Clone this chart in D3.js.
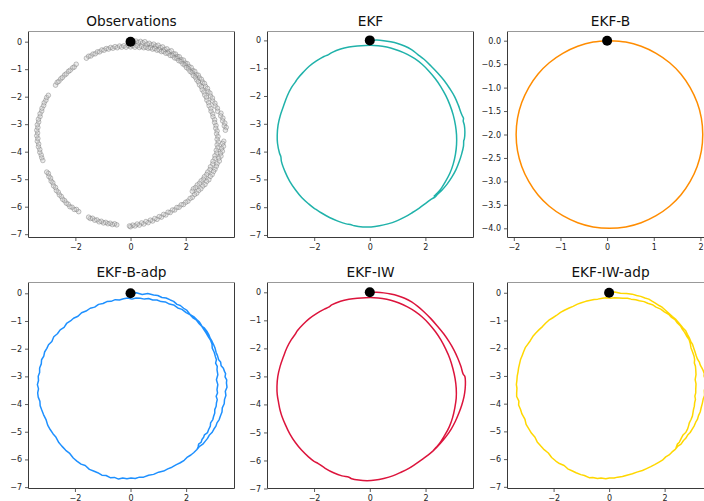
<!DOCTYPE html>
<html>
<head>
<meta charset="utf-8">
<script src="https://cdn.jsdelivr.net/npm/d3@7"></script>
<style>
  html, body { margin: 0; padding: 0; background: #fff; }
  svg { display: block; font-family: "DejaVu Sans", sans-serif; }
</style>
</head>
<body>
<svg id="fig" width="704" height="501"></svg>
<script>
// Start position of every trajectory
const startPoint = [0, 0];

// Noisy position measurements
const observations = [
  [0.05,0.03],[0.12,-0.02],[0.2,0.02],[0.28,-0.03],[0.36,0.01],[0.44,-0.04],[0.52,0.0],
  [0.6,-0.09],[0.68,-0.06],[0.76,-0.12],[0.84,-0.09],[0.92,-0.16],[1.0,-0.13],
  [1.08,-0.21],[1.16,-0.19],[1.24,-0.28],[1.32,-0.26],[1.4,-0.35],[1.48,-0.33],
  [1.56,-0.44],[1.63,-0.45],[1.7,-0.54],[1.77,-0.55],[1.84,-0.65],[1.92,-0.67],[1.99,-0.78],
  [2.06,-0.8],[2.12,-0.9],[2.2,-0.94],[2.26,-1.05],[2.33,-1.08],[2.39,-1.2],
  [2.46,-1.22],[2.5,-1.32],[2.57,-1.37],[2.61,-1.47],[2.68,-1.52],[2.72,-1.63],
  [2.79,-1.7],[2.81,-1.81],[2.88,-1.87],[2.9,-1.98],[2.97,-2.05],[2.98,-2.16],
  [3.06,-2.24],[3.07,-2.34],[3.15,-2.42],[3.16,-2.53],
  [3.28,-2.6],[3.27,-2.7],[3.35,-2.78],[3.34,-2.88],[3.42,-2.96],[3.4,-3.06],[3.47,-3.12],[3.44,-3.22],
  [3.38,-3.62],[3.34,-3.7],[3.37,-3.8],[3.3,-3.88],[3.33,-3.98],[3.26,-4.06],[3.28,-4.16],[3.2,-4.24],[3.22,-4.34],
  [3.14,-4.44],[3.11,-4.53],[3.06,-4.64],[3.01,-4.72],[2.96,-4.83],[2.89,-4.9],[2.84,-5.02],[2.76,-5.08],[2.7,-5.19],
  [2.62,-5.25],[2.55,-5.35],[2.47,-5.41],[2.4,-5.51],[2.32,-5.56],[2.24,-5.66],[2.16,-5.7],[2.08,-5.8],[2.0,-5.84],[1.92,-5.92],
  [1.84,-5.93],[1.76,-6.02],[1.68,-6.03],[1.6,-6.12],[1.52,-6.12],[1.44,-6.21],[1.36,-6.2],[1.28,-6.3],[1.2,-6.28],[1.12,-6.38],[1.04,-6.36],
  [0.96,-6.46],[0.88,-6.43],[0.8,-6.52],[0.72,-6.49],[0.64,-6.58],[0.56,-6.54],[0.48,-6.63],[0.4,-6.59],[0.32,-6.67],[0.24,-6.63],[0.16,-6.7],[0.08,-6.67],[0.0,-6.73],[-0.04,-6.7],
  [-0.5,-6.66],[-0.58,-6.62],[-0.66,-6.65],[-0.74,-6.6],[-0.82,-6.62],[-0.9,-6.57],[-0.98,-6.59],[-1.06,-6.53],[-1.14,-6.55],[-1.22,-6.48],[-1.3,-6.49],[-1.38,-6.42],[-1.46,-6.43],[-1.52,-6.38],
  [-1.88,-6.18],[-1.96,-6.1],[-2.04,-6.1],[-2.12,-6.02],[-2.2,-6.0],[-2.26,-5.91],[-2.33,-5.87],[-2.39,-5.78],[-2.46,-5.73],[-2.51,-5.63],[-2.58,-5.57],[-2.62,-5.47],[-2.69,-5.41],[-2.72,-5.3],[-2.79,-5.24],[-2.82,-5.13],[-2.88,-5.07],[-2.9,-4.96],[-2.96,-4.9],[-2.98,-4.79],[-3.04,-4.74],
  [-3.18,-4.32],[-3.22,-4.22],[-3.24,-4.12],[-3.29,-4.02],[-3.29,-3.92],[-3.34,-3.82],[-3.33,-3.72],[-3.38,-3.62],[-3.36,-3.52],[-3.4,-3.42],[-3.37,-3.32],[-3.4,-3.22],[-3.36,-3.12],[-3.38,-3.02],[-3.33,-2.92],[-3.34,-2.82],[-3.28,-2.72],[-3.28,-2.62],[-3.22,-2.52],[-3.21,-2.42],[-3.15,-2.32],[-3.13,-2.22],[-3.07,-2.13],[-3.04,-2.03],[-2.98,-1.95],
  [-2.72,-1.58],[-2.66,-1.48],[-2.6,-1.44],[-2.53,-1.35],[-2.47,-1.3],[-2.39,-1.21],[-2.33,-1.17],[-2.25,-1.08],[-2.19,-1.04],[-2.1,-0.95],[-2.04,-0.92],[-1.97,-0.82],
  [-1.6,-0.6],[-1.52,-0.53],[-1.44,-0.52],[-1.36,-0.45],[-1.28,-0.44],[-1.2,-0.37],[-1.12,-0.37],[-1.04,-0.3],[-0.96,-0.31],[-0.88,-0.25],[-0.8,-0.27],[-0.72,-0.21],[-0.64,-0.24],[-0.56,-0.18],[-0.48,-0.22],[-0.4,-0.16],[-0.32,-0.2],[-0.24,-0.15],[-0.16,-0.2],[-0.08,-0.14],[0.0,-0.19],[0.08,-0.14],[0.16,-0.2],[0.24,-0.15],[0.32,-0.21],[0.4,-0.17],[0.48,-0.22],
  [0.56,-0.2],[0.64,-0.24],[0.72,-0.22],[0.8,-0.27],[0.88,-0.25],[0.96,-0.31],[1.04,-0.3],[1.12,-0.36],[1.2,-0.35],[1.28,-0.42],[1.36,-0.42],[1.44,-0.5],[1.52,-0.51],[1.6,-0.59],[1.68,-0.61],[1.75,-0.69],[1.83,-0.72],[1.9,-0.81],[1.97,-0.85],[2.03,-0.94],[2.1,-0.99],[2.16,-1.08],[2.23,-1.13],[2.28,-1.23],[2.35,-1.29],[2.4,-1.39],[2.46,-1.46],[2.5,-1.57],[2.57,-1.64],[2.6,-1.75],[2.66,-1.83],[2.69,-1.94],[2.75,-2.02],[2.77,-2.13],[2.83,-2.22],[2.85,-2.33],[2.91,-2.43],[2.92,-2.53],[2.98,-2.63],[2.99,-2.73],[3.05,-2.84],[3.05,-2.94],[3.1,-3.05],
  [3.09,-3.15],[3.14,-3.25],[3.12,-3.35],[3.17,-3.45],[3.14,-3.55],[3.18,-3.65],[3.14,-3.75],[3.17,-3.85],[3.11,-3.95],[3.13,-4.05],[3.06,-4.15],[3.06,-4.25],[2.99,-4.35],[2.98,-4.45],[2.9,-4.55],[2.88,-4.65],[2.8,-4.74],[2.76,-4.83],[2.68,-4.91],[2.64,-5.0],[2.56,-5.06],[2.5,-5.15],[2.42,-5.21],[2.36,-5.3],[2.28,-5.35],[2.24,-5.44]
];

// EKF estimate
const ekf = [
  [0,0],[0.25,0.01],[0.5,-0.01],[0.75,-0.05],[1.0,-0.11],[1.25,-0.2],[1.5,-0.33],[1.72,-0.5],[1.95,-0.68],[2.2,-0.92],[2.45,-1.18],[2.68,-1.45],[2.88,-1.74],[3.05,-2.02],[3.18,-2.32],[3.28,-2.6],[3.33,-2.72],[3.37,-2.8],[3.36,-2.9],[3.4,-3.05],[3.42,-3.3],[3.4,-3.55],[3.38,-3.6],[3.37,-3.8],[3.3,-4.1],[3.22,-4.35],[3.1,-4.65],[2.95,-4.92],[2.78,-5.17],[2.6,-5.38],[2.42,-5.55],[2.35,-5.63],[2.2,-5.72],[2.0,-5.87],[1.78,-6.03],[1.52,-6.2],[1.25,-6.36],[0.95,-6.5],[0.65,-6.6],[0.35,-6.67],[0.05,-6.71],[-0.25,-6.71],[-0.55,-6.67],[-0.7,-6.62],[-0.85,-6.6],[-1.15,-6.5],[-1.45,-6.37],[-1.75,-6.2],[-1.95,-6.07],[-2.0,-6.04],[-2.2,-5.88],[-2.45,-5.65],[-2.67,-5.38],[-2.88,-5.07],[-3.05,-4.72],[-3.18,-4.35],[-3.2,-4.18],[-3.25,-4.05],[-3.32,-3.7],[-3.33,-3.4],[-3.3,-3.05],[-3.22,-2.7],[-3.1,-2.35],[-2.97,-2.0],[-2.82,-1.7],[-2.68,-1.5],[-2.6,-1.38],[-2.4,-1.15],[-2.18,-0.93],[-1.92,-0.74],[-1.65,-0.58],[-1.5,-0.52],[-1.35,-0.43],[-1.05,-0.31],[-0.75,-0.24],[-0.45,-0.2],[-0.15,-0.18],[0.15,-0.18],[0.45,-0.21],[0.75,-0.27],[1.05,-0.37],[1.35,-0.5],[1.62,-0.66],[1.88,-0.86],[2.12,-1.1],[2.35,-1.37],[2.55,-1.66],[2.73,-1.98],[2.88,-2.32],[3.0,-2.68],[3.08,-3.05],[3.12,-3.4],[3.12,-3.75],[3.08,-4.1],[3.0,-4.45],[2.88,-4.78],[2.72,-5.08],[2.55,-5.35],[2.4,-5.52],[2.3,-5.62]
];

// EKF-B estimate
const ekfB = [
  [0.05,0.0],[0.40,-0.03],[0.73,-0.12],[1.05,-0.27],[1.34,-0.47],[1.58,-0.71],[1.78,-1.0],[1.93,-1.32],[2.02,-1.65],[2.05,-2.0],[2.02,-2.35],[1.93,-2.68],[1.78,-3.0],[1.58,-3.29],[1.34,-3.53],[1.05,-3.73],[0.73,-3.88],[0.40,-3.97],[0.05,-4.0],[-0.30,-3.97],[-0.63,-3.88],[-0.95,-3.73],[-1.24,-3.53],[-1.48,-3.29],[-1.68,-3.0],[-1.83,-2.68],[-1.92,-2.35],[-1.95,-2.0],[-1.92,-1.65],[-1.83,-1.32],[-1.68,-1.0],[-1.48,-0.71],[-1.24,-0.47],[-0.95,-0.27],[-0.63,-0.12],[-0.30,-0.03],[0.05,0.0]
];

// EKF-B-adp estimate
const ekfBAdp = [
  [0,0],[0.21,0.02],[0.42,-0.04],[0.62,-0.01],[0.83,-0.06],[0.98,-0.08],[1.13,-0.15],[1.28,-0.17],[1.43,-0.24],
  [1.55,-0.29],[1.67,-0.4],[1.79,-0.44],[1.91,-0.54],[2.03,-0.62],[2.15,-0.77],[2.27,-0.84],[2.39,-0.96],
  [2.48,-1.04],[2.57,-1.19],[2.66,-1.26],[2.75,-1.38],[2.81,-1.48],[2.87,-1.63],[2.93,-1.73],[2.99,-1.86],
  [3.04,-1.98],[3.08,-2.14],[3.13,-2.26],[3.17,-2.4],[3.24,-2.48],[3.26,-2.62],[3.34,-2.71],[3.38,-2.82],
  [3.42,-2.9],[3.4,-3.02],[3.46,-3.13],[3.45,-3.24],[3.47,-3.39],[3.41,-3.54],[3.43,-3.69],[3.38,-3.84],
  [3.37,-3.99],[3.3,-4.14],[3.29,-4.29],[3.23,-4.44],[3.19,-4.56],[3.11,-4.68],[3.07,-4.8],[2.99,-4.92],
  [2.93,-5.03],[2.83,-5.13],[2.77,-5.24],[2.69,-5.34],[2.6,-5.45],[2.47,-5.54],[2.38,-5.65],[2.27,-5.76],
  [2.17,-5.84],[2.03,-5.93],[1.93,-6.03],[1.79,-6.12],[1.65,-6.19],[1.49,-6.28],[1.34,-6.34],[1.19,-6.42],
  [1.01,-6.46],[0.83,-6.54],[0.65,-6.57],[0.47,-6.64],[0.32,-6.64],[0.17,-6.69],[0.02,-6.67],[-0.13,-6.7],
  [-0.28,-6.67],[-0.43,-6.71],[-0.58,-6.65],[-0.73,-6.66],[-0.88,-6.58],[-1.03,-6.57],[-1.18,-6.48],[-1.33,-6.42],
  [-1.48,-6.36],[-1.63,-6.22],[-1.78,-6.17],[-1.93,-6.06],[-2.06,-5.95],[-2.2,-5.77],[-2.33,-5.67],[-2.47,-5.52],
  [-2.58,-5.39],[-2.68,-5.2],[-2.79,-5.07],[-2.89,-4.92],[-2.98,-4.76],[-3.04,-4.56],[-3.13,-4.38],[-3.2,-4.2],
  [-3.25,-4.06],[-3.26,-3.9],[-3.32,-3.75],[-3.34,-3.6],[-3.31,-3.45],[-3.35,-3.3],[-3.31,-3.15],[-3.32,-3.0],
  [-3.27,-2.86],[-3.27,-2.7],[-3.21,-2.55],[-3.2,-2.4],[-3.12,-2.27],[-3.09,-2.12],[-3.01,-1.99],[-2.95,-1.86],
  [-2.83,-1.74],[-2.76,-1.57],[-2.63,-1.46],[-2.53,-1.32],[-2.39,-1.23],[-2.3,-1.09],[-2.16,-1.0],[-2.05,-0.9],
  [-1.89,-0.83],[-1.76,-0.7],[-1.6,-0.64],[-1.45,-0.54],[-1.29,-0.5],[-1.15,-0.4],[-0.99,-0.37],[-0.85,-0.3],
  [-0.7,-0.29],[-0.55,-0.23],[-0.4,-0.24],[-0.25,-0.2],[-0.1,-0.17],[0.05,-0.21],[0.2,-0.17],[0.35,-0.18],
  [0.5,-0.21],[0.65,-0.19],[0.8,-0.24],[0.95,-0.24],[1.1,-0.3],[1.25,-0.31],[1.4,-0.39],[1.55,-0.42],
  [1.7,-0.53],[1.85,-0.58],[2.0,-0.7],[2.15,-0.78],[2.26,-0.9],[2.36,-0.96],[2.47,-1.1],[2.57,-1.2],
  [2.65,-1.33],[2.71,-1.42],[2.8,-1.57],[2.87,-1.68],[2.93,-1.83],[2.94,-1.98],[3.01,-2.13],[3.05,-2.28],
  [3.09,-2.4],[3.06,-2.52],[3.12,-2.64],[3.11,-2.76],[3.14,-2.94],[3.09,-3.12],[3.14,-3.3],[3.11,-3.48],
  [3.13,-3.6],[3.08,-3.72],[3.12,-3.84],[3.09,-3.96],[3.08,-4.08],[3.03,-4.2],[3.03,-4.32],[2.99,-4.44],
  [2.96,-4.56],[2.88,-4.68],[2.87,-4.8],[2.81,-4.92],[2.77,-5.03],[2.66,-5.11],[2.63,-5.2],[2.57,-5.28],
  [2.54,-5.38],[2.45,-5.45],[2.43,-5.55],[2.39,-5.64]
];

// EKF-IW estimate
const ekfIW = [
  [0,0],[0.25,0.0],[0.5,-0.02],[0.75,-0.06],[1.0,-0.12],[1.25,-0.21],[1.5,-0.34],[1.72,-0.5],[1.95,-0.7],[2.18,-0.93],[2.42,-1.2],[2.65,-1.48],[2.85,-1.77],[3.02,-2.06],[3.16,-2.36],[3.27,-2.65],[3.35,-2.92],[3.41,-3.0],[3.43,-3.2],[3.42,-3.45],[3.38,-3.72],[3.3,-4.02],[3.2,-4.3],[3.07,-4.6],[2.92,-4.88],[2.74,-5.14],[2.55,-5.37],[2.38,-5.55],[2.28,-5.65],[2.1,-5.8],[1.88,-5.96],[1.65,-6.12],[1.4,-6.28],[1.12,-6.42],[0.82,-6.55],[0.5,-6.64],[0.2,-6.7],[-0.1,-6.72],[-0.4,-6.7],[-0.65,-6.65],[-0.75,-6.6],[-1.0,-6.55],[-1.3,-6.44],[-1.6,-6.28],[-1.85,-6.11],[-2.0,-6.03],[-2.2,-5.87],[-2.45,-5.63],[-2.67,-5.36],[-2.87,-5.05],[-3.03,-4.72],[-3.16,-4.4],[-3.22,-4.2],[-3.27,-3.95],[-3.32,-3.65],[-3.33,-3.35],[-3.3,-3.0],[-3.22,-2.65],[-3.1,-2.3],[-2.97,-1.97],[-2.81,-1.68],[-2.68,-1.5],[-2.6,-1.37],[-2.39,-1.14],[-2.16,-0.93],[-1.9,-0.75],[-1.63,-0.6],[-1.48,-0.53],[-1.35,-0.44],[-1.05,-0.32],[-0.75,-0.25],[-0.45,-0.21],[-0.15,-0.19],[0.15,-0.19],[0.45,-0.22],[0.75,-0.28],[1.05,-0.38],[1.35,-0.52],[1.62,-0.68],[1.88,-0.88],[2.12,-1.12],[2.35,-1.4],[2.55,-1.7],[2.72,-2.02],[2.87,-2.36],[2.98,-2.72],[3.06,-3.08],[3.1,-3.42],[3.1,-3.78],[3.05,-4.12],[2.97,-4.47],[2.85,-4.8],[2.69,-5.1],[2.52,-5.37],[2.38,-5.53],[2.27,-5.65]
];

// EKF-IW-adp estimate
const ekfIWAdp = [
  [0,0],[0.2,0.03],[0.41,-0.02],[0.63,-0.03],[0.83,-0.05],[0.99,-0.1],[1.14,-0.13],[1.29,-0.19],[1.43,-0.23],
  [1.56,-0.31],[1.68,-0.38],[1.8,-0.46],[1.92,-0.53],[2.04,-0.64],[2.16,-0.75],[2.28,-0.86],[2.39,-0.95],
  [2.49,-1.06],[2.58,-1.17],[2.67,-1.28],[2.76,-1.37],[2.82,-1.5],[2.88,-1.61],[2.94,-1.75],[3.0,-1.85],
  [3.05,-2.0],[3.09,-2.12],[3.14,-2.28],[3.18,-2.39],[3.25,-2.5],[3.28,-2.6],[3.35,-2.73],[3.39,-2.81],
  [3.43,-2.92],[3.42,-3.0],[3.47,-3.15],[3.45,-3.23],[3.46,-3.38],[3.43,-3.53],[3.44,-3.7],[3.39,-3.83],
  [3.36,-3.98],[3.32,-4.13],[3.28,-4.3],[3.22,-4.43],[3.18,-4.57],[3.12,-4.67],[3.06,-4.81],[3.0,-4.91],
  [2.92,-5.04],[2.84,-5.12],[2.76,-5.25],[2.68,-5.33],[2.59,-5.46],[2.48,-5.53],[2.37,-5.66],[2.26,-5.75],
  [2.16,-5.85],[2.04,-5.92],[1.92,-6.04],[1.8,-6.11],[1.64,-6.2],[1.5,-6.27],[1.33,-6.35],[1.2,-6.41],
  [1.0,-6.47],[0.84,-6.53],[0.64,-6.58],[0.48,-6.63],[0.31,-6.65],[0.18,-6.68],[0.01,-6.68],[-0.12,-6.71],
  [-0.29,-6.68],[-0.42,-6.7],[-0.59,-6.66],[-0.72,-6.67],[-0.89,-6.59],[-1.02,-6.56],[-1.19,-6.49],[-1.32,-6.43],
  [-1.49,-6.35],[-1.62,-6.23],[-1.79,-6.16],[-1.92,-6.07],[-2.07,-5.94],[-2.19,-5.78],[-2.34,-5.66],[-2.46,-5.53],
  [-2.59,-5.38],[-2.67,-5.21],[-2.8,-5.06],[-2.88,-4.93],[-2.99,-4.75],[-3.03,-4.57],[-3.14,-4.37],[-3.19,-4.21],
  [-3.26,-4.05],[-3.25,-3.91],[-3.33,-3.74],[-3.33,-3.61],[-3.32,-3.44],[-3.34,-3.31],[-3.32,-3.14],[-3.31,-3.01],
  [-3.28,-2.85],[-3.26,-2.71],[-3.22,-2.54],[-3.19,-2.41],[-3.13,-2.26],[-3.08,-2.13],[-3.02,-1.98],[-2.94,-1.87],
  [-2.84,-1.73],[-2.75,-1.58],[-2.64,-1.45],[-2.52,-1.33],[-2.4,-1.22],[-2.29,-1.1],[-2.17,-0.99],[-2.04,-0.91],
  [-1.9,-0.82],[-1.75,-0.71],[-1.61,-0.63],[-1.44,-0.55],[-1.3,-0.49],[-1.14,-0.41],[-1.0,-0.36],[-0.84,-0.31],
  [-0.71,-0.28],[-0.54,-0.24],[-0.41,-0.23],[-0.24,-0.2],[-0.11,-0.18],[0.06,-0.2],[0.19,-0.18],[0.36,-0.19],
  [0.49,-0.2],[0.66,-0.2],[0.79,-0.23],[0.96,-0.25],[1.09,-0.29],[1.26,-0.32],[1.39,-0.38],[1.56,-0.43],
  [1.69,-0.52],[1.86,-0.59],[1.99,-0.69],[2.16,-0.79],[2.25,-0.89],[2.37,-0.97],[2.46,-1.09],[2.58,-1.21],
  [2.64,-1.32],[2.72,-1.43],[2.79,-1.56],[2.88,-1.69],[2.92,-1.82],[2.95,-1.99],[3.0,-2.12],[3.06,-2.29],
  [3.08,-2.41],[3.07,-2.53],[3.11,-2.65],[3.12,-2.77],[3.13,-2.95],[3.1,-3.13],[3.13,-3.29],[3.12,-3.49],
  [3.12,-3.61],[3.09,-3.73],[3.11,-3.85],[3.08,-3.97],[3.07,-4.09],[3.04,-4.21],[3.02,-4.33],[3.0,-4.45],
  [2.95,-4.57],[2.89,-4.69],[2.86,-4.81],[2.82,-4.93],[2.76,-5.04],[2.67,-5.12],[2.62,-5.21],[2.58,-5.29],
  [2.53,-5.39],[2.46,-5.46],[2.42,-5.56],[2.4,-5.63]
];

// Tick values
const ticksInt = [-7, -6, -5, -4, -3, -2, -1, 0];
const ticksX = [-2, 0, 2];
const ticksBX = [-2, -1, 0, 1, 2];
const ticksBY = [-4, -3.5, -3, -2.5, -2, -1.5, -1, -0.5, 0];

const panels = [
  { title: "Observations", kind: "scatter", data: observations,
    box: [28.5, 31.5, 234.5, 237.5], xd: [-3.70, 3.77], yd: [-7.12, 0.37],
    xt: ticksX, yt: ticksInt, yf: d3.format("d") },
  { title: "EKF", kind: "line", data: ekf, color: "#20b2aa", curve: d3.curveCatmullRom,
    box: [267.5, 31.5, 473.5, 237.5], xd: [-3.68, 3.73], yd: [-7.09, 0.32],
    xt: ticksX, yt: ticksInt, yf: d3.format("d") },
  { title: "EKF-B", kind: "line", data: ekfB, color: "#ff8c00", curve: d3.curveCatmullRom,
    box: [507.5, 31.5, 713.5, 237.5], xd: [-2.135, 2.28], yd: [-4.196, 0.196],
    xt: ticksBX, yt: ticksBY, yf: d3.format(".1f") },
  { title: "EKF-B-adp", kind: "line", data: ekfBAdp, color: "#1e90ff", curve: d3.curveLinear,
    box: [28.5, 282.5, 234.5, 488.5], xd: [-3.67, 3.74], yd: [-7.05, 0.39],
    xt: ticksX, yt: ticksInt, yf: d3.format("d") },
  { title: "EKF-IW", kind: "line", data: ekfIW, color: "#dc143c", curve: d3.curveCatmullRom,
    box: [267.5, 282.5, 473.5, 488.5], xd: [-3.67, 3.72], yd: [-7.0, 0.35],
    xt: ticksX, yt: ticksInt, yf: d3.format("d") },
  { title: "EKF-IW-adp", kind: "line", data: ekfIWAdp, color: "#ffd700", curve: d3.curveLinear,
    box: [507.5, 282.5, 713.5, 488.5], xd: [-3.66, 3.76], yd: [-7.06, 0.37],
    xt: ticksX, yt: ticksInt, yf: d3.format("d") }
];

const svg = d3.select("#fig");

panels.forEach(p => {
  const [x0, y0, x1, y1] = p.box;
  const x = d3.scaleLinear().domain(p.xd).range([x0, x1]);
  const y = d3.scaleLinear().domain(p.yd).range([y1, y0]);
  const g = svg.append("g");

  if (p.kind === "scatter") {
    g.append("g").selectAll("circle").data(p.data).join("circle")
      .attr("cx", d => x(d[0])).attr("cy", d => y(d[1])).attr("r", 2.3)
      .attr("fill", "#c8c8c8").attr("fill-opacity", 0.35)
      .attr("stroke", "#6e6e6e").attr("stroke-opacity", 0.6).attr("stroke-width", 0.7);
  } else {
    const line = d3.line().x(d => x(d[0])).y(d => y(d[1])).curve(p.curve);
    g.append("path").datum(p.data).attr("d", line)
      .attr("fill", "none").attr("stroke", p.color)
      .attr("stroke-width", 1.5).attr("stroke-linejoin", "round");
  }

  // start marker
  g.append("circle").attr("cx", x(startPoint[0])).attr("cy", y(startPoint[1]))
    .attr("r", 5).attr("fill", "#000");

  // axes
  const xa = g.append("g").attr("transform", `translate(0,${y1})`)
    .call(d3.axisBottom(x).tickValues(p.xt).tickSize(3.5).tickPadding(3).tickFormat(d3.format("d")));
  const ya = g.append("g").attr("transform", `translate(${x0},0)`)
    .call(d3.axisLeft(y).tickValues(p.yt).tickSize(3.5).tickPadding(3).tickFormat(p.yf));
  [xa, ya].forEach(a => {
    a.select(".domain").remove();
    a.selectAll(".tick line").attr("stroke", "#333").attr("stroke-width", 0.8);
    a.selectAll(".tick text").attr("fill", "#222").style("font-size", "8px")
      .style("font-family", "DejaVu Sans, sans-serif");
  });

  // frame
  g.append("line").attr("x1", x0).attr("x2", x0).attr("y1", y0).attr("y2", y1).attr("stroke", "#3a3a3a").attr("stroke-width", 1);
  g.append("line").attr("x1", x1).attr("x2", x1).attr("y1", y0).attr("y2", y1).attr("stroke", "#3a3a3a").attr("stroke-width", 1);
  g.append("line").attr("x1", x0).attr("x2", x1).attr("y1", y1).attr("y2", y1).attr("stroke", "#3a3a3a").attr("stroke-width", 1);
  g.append("line").attr("x1", x0).attr("x2", x1).attr("y1", y0).attr("y2", y0).attr("stroke", "#999").attr("stroke-width", 1.2);

  // title
  g.append("text").attr("x", (x0 + x1) / 2).attr("y", y0 - 5.5)
    .attr("text-anchor", "middle").style("font-size", "13.7px").attr("fill", "#111")
    .text(p.title);
});
</script>
</body>
</html>
